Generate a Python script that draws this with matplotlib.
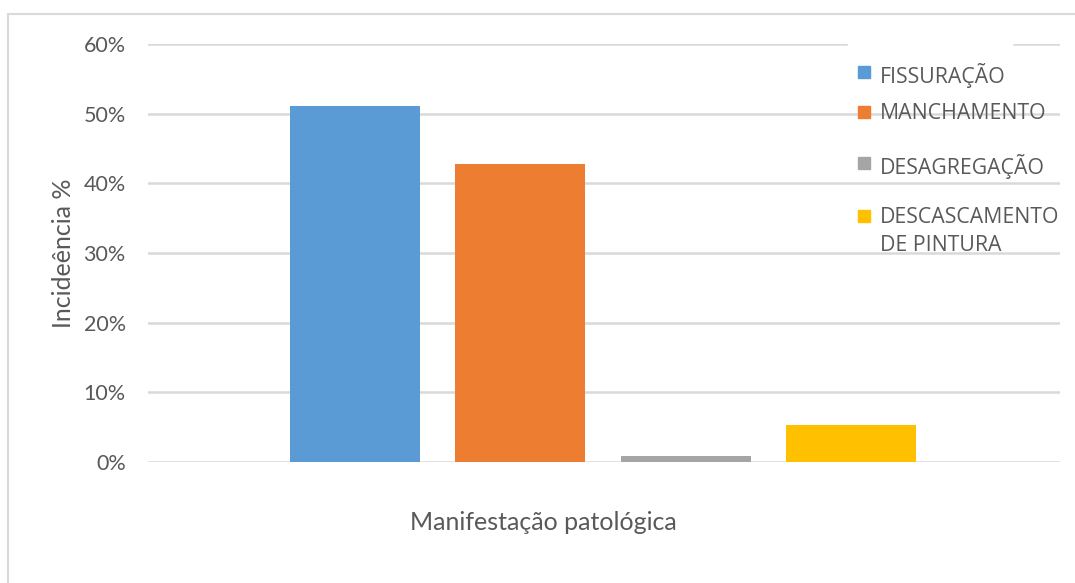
import matplotlib.pyplot as plt
from matplotlib.patches import Rectangle
from matplotlib.ticker import PercentFormatter

categorias = ["FISSURAÇÃO", "MANCHAMENTO", "DESAGREGAÇÃO", "DESCASCAMENTO\nDE PINTURA"]
incidencia = [0.511, 0.428, 0.009, 0.053]
cores = ["#5B9BD5", "#ED7D31", "#A5A5A5", "#FFC000"]
y_ticks = [0, 0.1, 0.2, 0.3, 0.4, 0.5, 0.6]

W, H = 1075, 583
fig = plt.figure(figsize=(W / 100, H / 100), dpi=100)
txt = "#595959"

# moldura do gráfico
fig.patches.append(Rectangle((8 / W, -0.01), 1.2, 1 - 14 / H + 0.01, transform=fig.transFigure,
                             fill=False, edgecolor="#d9d9d9", linewidth=1.5))

ax = fig.add_axes([148 / W, 1 - 462 / H, (1060 - 148) / W, (462 - 44) / H])
x = range(len(incidencia))
ax.bar(x, incidencia, width=0.785, color=cores, zorder=3)
ax.set_xlim(-1.25, 4.26)
ax.set_ylim(0, 0.6)
ax.set_yticks(y_ticks)
ax.yaxis.set_major_formatter(PercentFormatter(1.0, decimals=0))
ax.set_xticks([])
ax.grid(axis="y", color="#d9d9d9", linewidth=1.8, zorder=0)
ax.tick_params(axis="y", length=0, pad=16, labelsize=15.5, labelcolor=txt)
for lab in ax.get_yticklabels():
    lab.set_family("Lato")
for s in ax.spines.values():
    s.set_visible(False)

ax.set_ylabel("Incideência %", fontsize=18, color=txt, family="Lato", labelpad=6)
fig.text(543 / W, 1 - 523 / H, "Manifestação patológica", ha="center", va="center",
         fontsize=18, color=txt, family="Lato")

# legenda sobreposta à área do gráfico
fig.patches.append(Rectangle((848 / W, 1 - 50 / H), (1012 - 848) / W, 10 / H,
                             transform=fig.transFigure, color="white", zorder=4))
leg_y = [72, 112, 163, 216]
for cat, cor, yy in zip(categorias, cores, leg_y):
    fig.patches.append(Rectangle((858 / W, 1 - (yy + 6) / H), 12 / W, 12 / H,
                                 transform=fig.transFigure, color=cor, zorder=5))
    fig.text(880 / W, 1 - (yy - 9) / H, cat, ha="left", va="top", fontsize=15.3,
             color=txt, family="Open Sans", linespacing=1.45, zorder=5)

fig.savefig("out.png", dpi=100)
